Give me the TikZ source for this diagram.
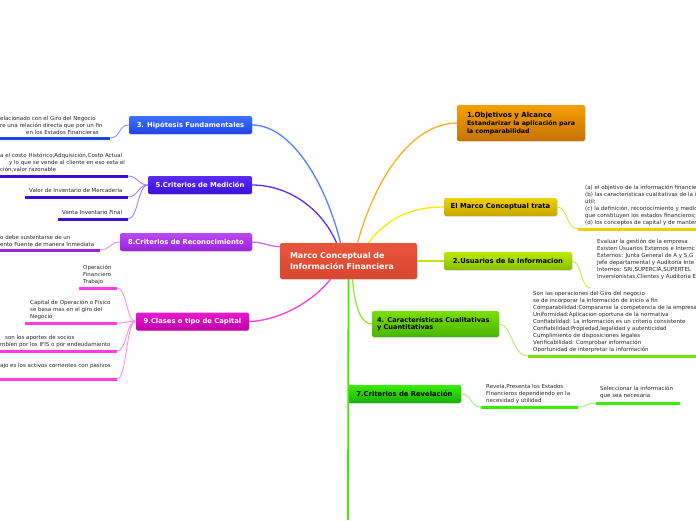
\documentclass[tikz,border=0pt]{standalone}
\usepackage{fontspec}
\setmainfont{DejaVu Sans}
\usetikzlibrary{shadows}

\definecolor{rojoC}{HTML}{E9553C}
\definecolor{rojoO}{HTML}{D84630}
\definecolor{naranja}{HTML}{F7A000}
\definecolor{naranjaO}{HTML}{C47200}
\definecolor{amarillo}{HTML}{EED200}
\definecolor{amarilloO}{HTML}{C8A600}
\definecolor{lima}{HTML}{BBEA00}
\definecolor{limaO}{HTML}{88C000}
\definecolor{verde}{HTML}{7CDF00}
\definecolor{verdeO}{HTML}{48B400}
\definecolor{verdeV}{HTML}{38EE00}
\definecolor{verdeVO}{HTML}{18AE00}
\definecolor{azul}{HTML}{3F72FF}
\definecolor{azulO}{HTML}{1E44E6}
\definecolor{violeta}{HTML}{5A2CF6}
\definecolor{violetaO}{HTML}{3A10D6}
\definecolor{morado}{HTML}{BB48F4}
\definecolor{moradoO}{HTML}{9A22DC}
\definecolor{magenta}{HTML}{E81ACE}
\definecolor{magentaO}{HTML}{BE00A6}
\definecolor{rosa}{HTML}{FF3CE0}

\tikzset{
  rama/.style={rounded corners=2pt, inner sep=0pt, minimum height=18pt,
    font=\fontsize{6.8}{8}\selectfont\bfseries,
    drop shadow={opacity=0.2, shadow xshift=0.8pt, shadow yshift=-0.8pt}},
  hoja/.style={anchor=south west, inner sep=0pt, align=left,
    font=\fontsize{5.5}{7}\selectfont, text=black!85},
  raya/.style={line width=3pt},
  enlace/.style={line width=1.3pt},
  ramita/.style={line width=0.9pt},
}

\begin{document}
\begin{tikzpicture}[x=1pt,y=-1pt]
  \useasboundingbox (0,0) rectangle (696,520);
  \clip (0,0) rectangle (696,520);

  % Tema central
  \node[rama, top color=rojoC, bottom color=rojoO, text=white, minimum width=137pt,
        minimum height=36pt, text width=117pt, inner xsep=10pt, align=left,
        font=\fontsize{8}{10.5}\selectfont\bfseries]
        (centro) at (348.5,261) {Marco Conceptual de\\Información Financiera};

  % Ramas derecha
  \node[rama, top color=naranja, bottom color=naranjaO, minimum width=128pt, minimum height=36pt,
        align=left, font=\fontsize{6.2}{8}\selectfont\bfseries]
        (obj) at (521,123) {\fontsize{7}{8.5}\selectfont 1.Objetivos y Alcance\\Estandarizar la aplicación para\\la comparabilidad};
  \node[rama, top color=amarillo, bottom color=amarilloO, minimum width=113pt]
        (trata) at (500.5,207) {El Marco Conceptual trata};
  \node[rama, top color=lima, bottom color=limaO, minimum width=128pt]
        (usu) at (508,261) {2.Usuarios de la Informacion};
  \node[rama, top color=verde, bottom color=verdeO, minimum width=127pt, minimum height=26pt,
        text width=117pt, inner xsep=5pt, align=left, font=\fontsize{6.6}{7.5}\selectfont\bfseries]
        (carac) at (435.5,324) {4. Características Cualitativas\\y Cuantitativas};
  \node[rama, top color=verdeV, bottom color=verdeVO, minimum width=113pt]
        (revel) at (404.5,394) {7.Criterios de Revelación};

  % Ramas izquierda
  \node[rama, top color=azul, bottom color=azulO, text=white, minimum width=123pt]
        (hipo) at (190.5,125) {3. Hipótesis Fundamentales};
  \node[rama, top color=violeta, bottom color=violetaO, text=white, minimum width=104pt]
        (medic) at (200,185) {5.Criterios de Medición};
  \node[rama, top color=morado, bottom color=moradoO, text=white, minimum width=132pt]
        (recon) at (186,242) {8.Criterios de Reconocimiento};
  \node[rama, top color=magenta, bottom color=magentaO, text=white, minimum width=113pt]
        (capital) at (192.5,321.5) {9.Clases o tipo de Capital};

  % Enlaces desde el centro
  \draw[enlace, color=azul!90] ([xshift=-8pt]centro.north) .. controls (325,180) and (290,125) .. (hipo.east);
  \draw[enlace, color=violeta] ([xshift=-12pt]centro.north) .. controls (320,205) and (285,185) .. (medic.east);
  \draw[enlace, color=morado!80] ([yshift=-4pt]centro.north west) .. controls (268,246) and (262,242) .. (recon.east);
  \draw[enlace, color=rosa] ([xshift=-18pt]centro.south) .. controls (310,305) and (275,321) .. (capital.east);
  \draw[enlace, color=naranja!85] ([xshift=9pt]centro.north) .. controls (375,180) and (410,124) .. (obj.west);
  \draw[enlace, color=yellow!90!orange] ([xshift=20pt]centro.north) .. controls (390,215) and (415,207) .. (trata.west);
  \draw[enlace, color=lima] (centro.east) -- (usu.west);
  \draw[enlace, color=verde!80!white] ([xshift=4pt]centro.south) .. controls (355,310) and (362,324) .. (carac.west);
  \coordinate (abajo) at (348,520);
  \draw[line width=1.8pt, color=verdeV] (centro.south) -- (abajo);

  % Hojas: 3. Hipotesis
  \coordinate (hipoL) at (0,138); \coordinate (hipoR) at (110,138);
  \node[hoja] (hipoT) at (0,134.5) {elacionado con el Giro del Negocio\\re una relación directa que por un fin\\\hspace*{26pt}en los Estados Financieras};
  \draw[raya, color=azulO] (hipoL) -- (hipoR);
  \draw[ramita, color=azul!70] (hipoR) .. controls (121,138) and (118,125) .. (hipo.west);

  % Hojas: 5. Medicion
  \coordinate (medAL) at (0,176); \coordinate (medAR) at (128,176);
  \coordinate (medBL) at (25,197); \coordinate (medBR) at (128,197);
  \coordinate (medCL) at (58,219); \coordinate (medCR) at (128,219);
  \node[hoja] (medA) at (0,172.5) {a el costo Histórico,Adquisición,Costo Actual\\\hspace*{9pt}y lo que se vende al cliente en eso esta el\\ción,valor razonable};
  \node[hoja] (medB) at (29,193) {Valor de Inventario de Mercadería};
  \node[hoja] (medC) at (62,215) {Venta Inventario Final};
  \draw[raya, color=violetaO] (medAL) -- (medAR);
  \draw[raya, color=violetaO] (medBL) -- (medBR);
  \draw[raya, color=violetaO] (medCL) -- (medCR);
  \foreach \p in {medAR,medBR,medCR}
    \draw[ramita, color=violeta!60] (\p) .. controls +(10,0) and (138,185) .. (medic.west);

  % Hojas: 8. Reconocimiento
  \coordinate (recL) at (0,250); \coordinate (recR) at (100,250);
  \node[hoja] (recT) at (0,246.5) {o debe sustentarse de un\\ento Fuente de manera Inmediata};
  \draw[raya, color=moradoO] (recL) -- (recR);
  \draw[ramita, color=morado!60] (recR) .. controls (110,250) and (110,242) .. (recon.west);

  % Hojas: 9. Capital
  \coordinate (capAL) at (79,288); \coordinate (capAR) at (117,288);
  \coordinate (capBL) at (25,323); \coordinate (capBR) at (117,323);
  \coordinate (capCL) at (0,351); \coordinate (capCR) at (117,351);
  \coordinate (capDL) at (0,379); \coordinate (capDR) at (117,379);
  \node[hoja] (capA) at (83,285) {Operación\\Financiero\\Trabajo};
  \node[hoja] (capB) at (30,319.5) {Capital de Operación o Físico\\se basa mas en el giro del\\Negocio};
  \node[hoja] (capC) at (0,347.5) {\hspace*{5pt}son los aportes de socios\\mbien por los IFIS o por endeudamiento};
  \node[hoja] (capD) at (0,369) {ajo es los activos corrientes con pasivos};
  \foreach \a/\b in {capAL/capAR,capBL/capBR,capCL/capCR,capDL/capDR}
    \draw[raya, color=rosa] (\a) -- (\b);
  \foreach \p in {capAR,capBR,capCR,capDR}
    \draw[ramita, color=rosa!60] (\p) .. controls +(10,0) and (126,321) .. (capital.west);

  % Hojas: El Marco Conceptual trata
  \coordinate (traL) at (578,229); \coordinate (traR) at (696,229);
  \node[hoja] (traT) at (585,225.5) {(a) el objetivo de la información financie\\(b) las características cualitativas de la i\\útil;\\(c) la definición, reconocimiento y medic\\que constituyen los estados financieros;\\(d) los conceptos de capital y de manter};
  \draw[raya, color=amarillo] (traL) -- (traR);
  \draw[ramita, color=amarillo!80] (trata.east) .. controls (568,207) and (566,229) .. (traL);

  % Hojas: 2. Usuarios
  \coordinate (usuL) at (590,288);
  \node[hoja] (usuT) at (597,280) {Evaluar la gestión de la empresa\\Existen Usuarios Externos e Internc\\Externos: Junta General de A y S,G\\Jefe departamental y Auditoria Inte\\Internos: SRI,SUPERCIA,SUPERTEL\\Inversionistas,Clientes y Auditoria E};
  \draw[ramita, color=lima!80] (usu.east) .. controls (582,262) and (580,286) .. (usuL);

  % Hojas: 4. Caracteristicas
  \coordinate (carL) at (528,356); \coordinate (carR) at (696,356);
  \node[hoja] (carT) at (533,352.5) {Son las operaciones del Giro del negocio\\se de incorporar la información de inicio a fin\\Comparabilidad:Compararse la competencia de la empresa\\Uniformidad:Aplicacion oportuna de la normativa\\Confiabilidad: La información es un criterio consistente\\Confiabilidad:Propiedad,legalidad y autenticidad\\Cumplimiento de disposiciones legales\\Verificabilidad: Comprobar información\\Oportunidad de interpretar la información};
  \draw[raya, color=verde] (carL) -- (carR);
  \draw[ramita, color=verde!60] (carac.east) .. controls (512,324) and (512,356) .. (carL);

  % Hojas: 7. Revelacion
  \coordinate (revAL) at (481,407); \coordinate (revAR) at (578,407);
  \coordinate (revBL) at (596,403); \coordinate (revBR) at (680,403);
  \node[hoja] (revA) at (486,403.5) {Revela,Presenta los Estados\\Financieros dependiendo en la\\necesidad y utilidad};
  \node[hoja] (revB) at (600,399) {Seleccionar la información\\que sea necesaria};
  \draw[raya, color=verdeV] (revAL) -- (revAR);
  \draw[raya, color=verdeV] (revBL) -- (revBR);
  \draw[ramita, color=verdeV!50] (revel.east) .. controls (472,394) and (470,407) .. (revAL);
  \draw[ramita, color=verdeV!50] (revAR) .. controls (588,407) and (586,403) .. (revBL);
\end{tikzpicture}
\end{document}
